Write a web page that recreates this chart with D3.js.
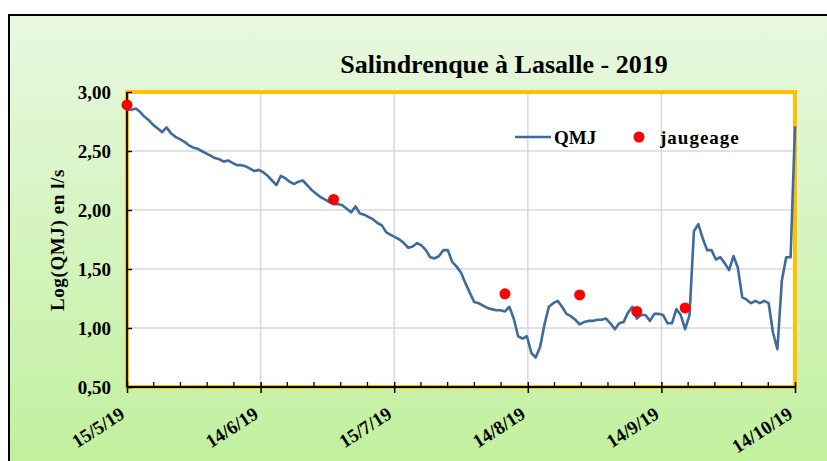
<!DOCTYPE html>
<html>
<head>
<meta charset="utf-8">
<script src="https://cdn.jsdelivr.net/npm/d3@7"></script>
<style>
  html, body { margin: 0; padding: 0; background: #ffffff; }
  svg { display: block; }
  text { font-family: "Liberation Serif", "Times New Roman", serif; font-weight: bold; fill: #000; }
</style>
</head>
<body>
<svg id="chart" width="827" height="461"></svg>
<script>
// ---------- DATA ----------
const chartTitle = "Salindrenque à Lasalle - 2019";
const yAxisTitle = "Log(QMJ) en l/s";
const startDate = "2019-05-15";
const endDate = "2019-10-14";
// QMJ daily values (log), one per day from 15/5/2019
const qmj = [
  2.85, 2.85, 2.86, 2.83, 2.79, 2.76, 2.72, 2.69, 2.66, 2.70,
  2.65, 2.62, 2.60, 2.58, 2.55, 2.53, 2.52, 2.50, 2.48, 2.46,
  2.44, 2.43, 2.41, 2.42, 2.40, 2.38, 2.38, 2.37, 2.35, 2.33,
  2.34, 2.32, 2.29, 2.25, 2.21, 2.29, 2.27, 2.24, 2.22, 2.24,
  2.25, 2.21, 2.17, 2.14, 2.11, 2.09, 2.07, 2.05, 2.05, 2.04,
  2.01, 1.98, 2.03, 1.97, 1.96, 1.94, 1.92, 1.89, 1.87, 1.81,
  1.79, 1.77, 1.75, 1.72, 1.68, 1.69, 1.72, 1.70, 1.66, 1.60,
  1.59, 1.61, 1.66, 1.66, 1.56, 1.52, 1.47, 1.38, 1.30, 1.22,
  1.21, 1.19, 1.17, 1.16, 1.15, 1.15, 1.14, 1.18, 1.08, 0.93,
  0.91, 0.93, 0.79, 0.75, 0.84, 1.03, 1.18, 1.21, 1.23, 1.18,
  1.12, 1.10, 1.07, 1.03, 1.05, 1.06, 1.06, 1.07, 1.07, 1.08,
  1.04, 0.99, 1.04, 1.05, 1.13, 1.18, 1.08, 1.11, 1.11, 1.06,
  1.12, 1.12, 1.11, 1.04, 1.04, 1.16, 1.11, 0.99, 1.11, 1.82,
  1.88, 1.76, 1.66, 1.66, 1.58, 1.60, 1.55, 1.49, 1.61, 1.51,
  1.26, 1.24, 1.21, 1.23, 1.21, 1.23, 1.21, 0.96, 0.82, 1.40,
  1.60, 1.60, 2.71
];
const jaugeageDates = ["2019-05-15", "2019-07-01", "2019-08-09", "2019-08-26", "2019-09-08", "2019-09-19"];
const jaugeageValues = [2.89, 2.09, 1.29, 1.28, 1.14, 1.17];
const xTickLabels = ["15/5/19", "14/6/19", "15/7/19", "14/8/19", "14/9/19", "14/10/19"];
const xMajorStepDays = 30.4;
const xMinorPerMajor = 5;
const yTickValues = [0.5, 1.0, 1.5, 2.0, 2.5, 3.0];
const legendLabels = ["QMJ", "jaugeage"];

// ---------- SETUP ----------
const parse = d3.utcParse("%Y-%m-%d");
const t0 = parse(startDate), t1 = parse(endDate);
const DAY = 864e5;
const qmjData = qmj.map((v, i) => ({ date: new Date(t0.getTime() + i * DAY), v }));
const jData = jaugeageDates.map((d, i) => ({ date: parse(d), v: jaugeageValues[i] }));

const svg = d3.select("#chart");
const defs = svg.append("defs");
const grad = defs.append("linearGradient").attr("id", "bg").attr("x1", 0).attr("y1", 0).attr("x2", 0).attr("y2", 1);
grad.append("stop").attr("offset", "0%").attr("stop-color", "#e8f8e0");
grad.append("stop").attr("offset", "100%").attr("stop-color", "#bff09b");

// chart area background and border
svg.append("rect").attr("x", 9).attr("y", 15).attr("width", 840).attr("height", 470)
  .attr("fill", "url(#bg)").attr("stroke", "#000").attr("stroke-width", 2);

const plot = { left: 127, right: 795, top: 92, bottom: 387 };
const x = d3.scaleUtc().domain([t0, t1]).range([plot.left, plot.right]);
const y = d3.scaleLinear().domain([0.5, 3.0]).range([plot.bottom, plot.top]);

// plot area
svg.append("rect").attr("x", plot.left).attr("y", plot.top)
  .attr("width", plot.right - plot.left).attr("height", plot.bottom - plot.top)
  .attr("fill", "#fff");

const majorDates = xTickLabels.map((_, i) => new Date(t0.getTime() + i * xMajorStepDays * DAY));
const minorDates = [];
for (let i = 0; i < xTickLabels.length - 1; i++) {
  for (let k = 1; k < xMinorPerMajor; k++) {
    minorDates.push(new Date(t0.getTime() + (i + k / xMinorPerMajor) * xMajorStepDays * DAY));
  }
}

// gridlines
const grid = svg.append("g").attr("stroke", "#d9d9d9").attr("stroke-width", 1.5);
grid.selectAll("line.h").data(yTickValues.slice(1, -1)).join("line")
  .attr("x1", plot.left).attr("x2", plot.right)
  .attr("y1", d => y(d)).attr("y2", d => y(d));
grid.selectAll("line.v").data(majorDates.slice(1, -1)).join("line")
  .attr("y1", plot.top).attr("y2", plot.bottom)
  .attr("x1", d => x(d)).attr("x2", d => x(d));

// yellow border
svg.append("rect").attr("x", plot.left).attr("y", plot.top)
  .attr("width", plot.right - plot.left).attr("height", plot.bottom - plot.top)
  .attr("fill", "none").attr("stroke", "#ffc000").attr("stroke-width", 4);

// Y axis (inside ticks)
const yAxis = d3.axisRight(y).tickValues(yTickValues).tickSize(5).tickFormat("");
const gy = svg.append("g").attr("transform", `translate(${plot.left},0)`).call(yAxis);
gy.select(".domain").attr("stroke", "#000").attr("stroke-width", 1.8).attr("d", `M0,${plot.top}V${plot.bottom}`);
gy.selectAll(".tick line").attr("stroke", "#000").attr("stroke-width", 1.5);
svg.append("g").selectAll("text").data(yTickValues).join("text")
  .attr("x", plot.left - 16).attr("y", d => y(d)).attr("dy", "0.35em")
  .attr("text-anchor", "end").style("font-size", "19px")
  .text(d => d3.format(".2f")(d).replace(".", ","));

// X axis
const xAxis = d3.axisBottom(x).tickValues(majorDates).tickSize(6).tickFormat("");
const gx = svg.append("g").attr("transform", `translate(0,${plot.bottom})`).call(xAxis);
gx.select(".domain").attr("stroke", "#000").attr("stroke-width", 1.8).attr("d", `M${plot.left},0H${plot.right}`);
gx.selectAll(".tick line").attr("stroke", "#000").attr("stroke-width", 1.5).attr("y1", -5);
svg.append("g").attr("stroke", "#000").attr("stroke-width", 1.3)
  .selectAll("line").data(minorDates).join("line")
  .attr("x1", d => x(d)).attr("x2", d => x(d))
  .attr("y1", plot.bottom - 5).attr("y2", plot.bottom);
svg.append("g").selectAll("text").data(majorDates).join("text")
  .attr("text-anchor", "end").style("font-size", "19px")
  .attr("transform", d => `translate(${x(d) - 1},${plot.bottom + 30}) rotate(-33)`)
  .text((d, i) => xTickLabels[i]);

// QMJ line
const line = d3.line().x(d => x(d.date)).y(d => y(d.v));
svg.append("path").datum(qmjData).attr("d", line)
  .attr("fill", "none").attr("stroke", "#3f6a9c").attr("stroke-width", 2.6)
  .attr("stroke-linejoin", "round");

// jaugeage points
svg.append("g").selectAll("circle").data(jData).join("circle")
  .attr("cx", d => x(d.date)).attr("cy", d => y(d.v)).attr("r", 5.5)
  .attr("fill", "#ff0000");

// Title
svg.append("text").attr("x", 504).attr("y", 73).attr("text-anchor", "middle")
  .style("font-size", "26px").text(chartTitle);

// Y axis title
svg.append("text").attr("transform", "translate(64,240) rotate(-90)")
  .attr("text-anchor", "middle").style("font-size", "19px").style("letter-spacing", "0.6px").text(yAxisTitle);

// Legend
const lg = svg.append("g");
lg.append("line").attr("x1", 515).attr("x2", 551).attr("y1", 137).attr("y2", 137)
  .attr("stroke", "#3f6a9c").attr("stroke-width", 2.6);
lg.append("text").attr("x", 554).attr("y", 143.5).style("font-size", "19px").text(legendLabels[0]);
lg.append("circle").attr("cx", 639).attr("cy", 137).attr("r", 5.5).attr("fill", "#ff0000");
lg.append("text").attr("x", 660).attr("y", 143.5).style("font-size", "19px").style("letter-spacing", "1px").text(legendLabels[1]);
</script>
</body>
</html>
